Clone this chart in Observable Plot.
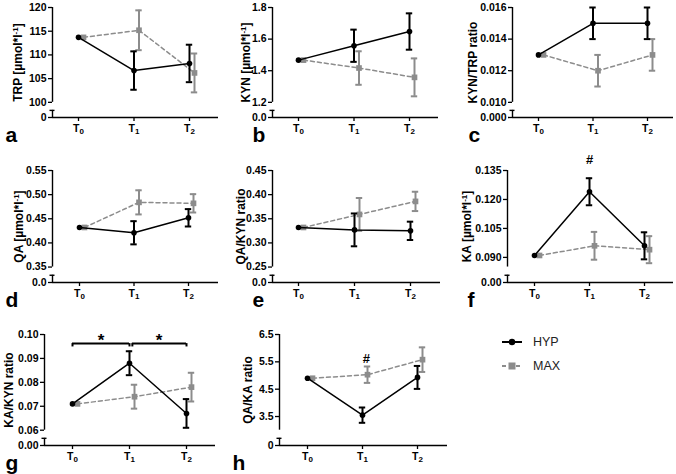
<!DOCTYPE html>
<html><head><meta charset="utf-8">
<script src="https://cdn.jsdelivr.net/npm/d3@7"></script>
<script src="https://cdn.jsdelivr.net/npm/@observablehq/plot@0.6"></script>
<style>
body{margin:0;background:#fff;}
#chart{position:relative;width:676px;height:474px;font-family:"Liberation Sans",Arial,sans-serif;}
#legend{position:absolute;left:0;top:0;}
</style></head><body><div id="chart"></div>
<script>
// ---- data ----
const timepoints = ["T₀", "T₁", "T₂"];
const groups = ["HYP", "MAX"];

const trpHyp = [113.7, 106.7, 108.2], trpHypErr = [0, 4.05, 3.95];
const trpMax = [113.7, 115.2, 106.2], trpMaxErr = [0, 4.2, 4.1];
const trpTicks = [100, 105, 110, 115, 120];

const kynHyp = [1.467, 1.558, 1.648], kynHypErr = [0, 0.102, 0.115];
const kynMax = [1.467, 1.417, 1.358], kynMaxErr = [0, 0.106, 0.12];
const kynTicks = [1.2, 1.4, 1.6, 1.8];

const kyntrpHyp = [0.013, 0.015, 0.015], kyntrpHypErr = [0, 0.001, 0.001];
const kyntrpMax = [0.013, 0.012, 0.013], kyntrpMaxErr = [0, 0.001, 0.001];
const kyntrpTicks = [0.010, 0.012, 0.014, 0.016];

const qaHyp = [0.432, 0.421, 0.452], qaHypErr = [0, 0.024, 0.018];
const qaMax = [0.432, 0.484, 0.482], qaMaxErr = [0, 0.025, 0.019];
const qaTicks = [0.35, 0.40, 0.45, 0.50, 0.55];

const qakynHyp = [0.332, 0.327, 0.325], qakynHypErr = [0, 0.034, 0.019];
const qakynMax = [0.332, 0.359, 0.386], qakynMaxErr = [0, 0.034, 0.020];
const qakynTicks = [0.25, 0.30, 0.35, 0.40, 0.45];

const kaHyp = [0.091, 0.124, 0.096], kaHypErr = [0, 0.007, 0.007];
const kaMax = [0.091, 0.096, 0.094], kaMaxErr = [0, 0.0072, 0.007];
const kaTicks = [0.090, 0.105, 0.120, 0.135];

const kakynHyp = [0.071, 0.088, 0.067], kakynHypErr = [0, 0.005, 0.006];
const kakynMax = [0.071, 0.074, 0.078], kakynMaxErr = [0, 0.005, 0.006];
const kakynTicks = [0.06, 0.07, 0.08, 0.09, 0.10];

const qakaHyp = [4.9, 3.55, 4.93], qakaHypErr = [0, 0.28, 0.42];
const qakaMax = [4.9, 5.03, 5.58], qakaMaxErr = [0, 0.30, 0.45];
const qakaTicks = [3.5, 4.5, 5.5, 6.5];

// annotations
const kaMarks = [{x: 1, y: 0.1403, text: "#"}];
const qakaMarks = [{x: 1.07, y: 5.62, text: "#"}];
const kakynBrackets = [{x1: 0, x2: 1, y: 0.0962}, {x1: 1.05, x2: 2, y: 0.0962}];
const kakynStars = [{x: 0.5, y: 0.0976, text: "*"}, {x: 1.52, y: 0.0976, text: "*"}];

// ---- layout ----
const W = 676, H = 474;
const rows = [{top: 7, base: 117}, {top: 170, base: 282}, {top: 334, base: 445}];
const BLACK = "#000", GREY = "#8c8c8c";
const f0 = d => d3.format("d")(d), f1 = d3.format(".1f"), f2 = d3.format(".2f"), f3 = d3.format(".3f");

const panels = [
  {letter: "a", label: "TRP [µmol*l⁻¹]", hyp: trpHyp, hypErr: trpHypErr, max: trpMax, maxErr: trpMaxErr,
   ticks: trpTicks, axisMin: 100, top: 120, zeroLabel: "0", fmt: f0,
   row: 0, axis: 52, end: 218, t0: 78, t2: 189, lx: 5, labX: 18},
  {letter: "b", label: "KYN [µmol*l⁻¹]", hyp: kynHyp, hypErr: kynHypErr, max: kynMax, maxErr: kynMaxErr,
   ticks: kynTicks, axisMin: 1.2, top: 1.8, zeroLabel: "0.0", fmt: f1,
   row: 0, axis: 272, end: 438, t0: 298, t2: 409, lx: 252, labX: 246},
  {letter: "c", label: "KYN/TRP ratio", hyp: kyntrpHyp, hypErr: kyntrpHypErr, max: kyntrpMax, maxErr: kyntrpMaxErr,
   ticks: kyntrpTicks, axisMin: 0.010, top: 0.016, zeroLabel: "0.000", fmt: f3,
   row: 0, axis: 512, end: 673, t0: 538, t2: 647, lx: 468, labX: 473},
  {letter: "d", label: "QA [µmol*l⁻¹]", hyp: qaHyp, hypErr: qaHypErr, max: qaMax, maxErr: qaMaxErr,
   ticks: qaTicks, axisMin: 0.35, top: 0.55, zeroLabel: "0.0", fmt: f2,
   row: 1, axis: 52, end: 218, t0: 79, t2: 188, lx: 5, labX: 19},
  {letter: "e", label: "QA/KYN ratio", hyp: qakynHyp, hypErr: qakynHypErr, max: qakynMax, maxErr: qakynMaxErr,
   ticks: qakynTicks, axisMin: 0.25, top: 0.45, zeroLabel: "0.0", fmt: f2,
   row: 1, axis: 272, end: 440, t0: 298, t2: 410, lx: 252, labX: 241},
  {letter: "f", label: "KA [µmol*l⁻¹]", hyp: kaHyp, hypErr: kaHypErr, max: kaMax, maxErr: kaMaxErr,
   ticks: kaTicks, axisMin: 0.085, top: 0.135, zeroLabel: "0.00", fmt: f3, notes: kaMarks,
   row: 1, axis: 507, end: 673, t0: 534, t2: 644, lx: 467, labX: 467},
  {letter: "g", label: "KA/KYN ratio", hyp: kakynHyp, hypErr: kakynHypErr, max: kakynMax, maxErr: kakynMaxErr,
   ticks: kakynTicks, axisMin: 0.06, top: 0.10, zeroLabel: "0.00", fmt: f2, notes: kakynStars, brackets: kakynBrackets,
   row: 2, axis: 44, end: 215, t0: 72, t2: 186, lx: 5, labX: 9},
  {letter: "h", label: "QA/KA ratio", hyp: qakaHyp, hypErr: qakaHypErr, max: qakaMax, maxErr: qakaMaxErr,
   ticks: qakaTicks, axisMin: 3.0, top: 6.5, zeroLabel: "0", fmt: f1, notes: qakaMarks,
   row: 2, axis: 279, end: 447, t0: 307, t2: 417, lx: 232, labX: 248}
];

const chart = document.getElementById("chart");
const font = "'Liberation Sans', Arial, sans-serif";
const SUBS = "₀₁₂₃₄₅₆₇₈₉";

for (const p of panels) {
  const r = rows[p.row];
  const unit = (p.t2 - p.t0) / 2;
  const xd = [-(p.t0 - p.axis) / unit, 2 + (p.end - p.t2) / unit];
  const span = p.top - p.axisMin;
  const zero = p.axisMin - 0.16 * span;
  const stubTop = zero + 0.075 * span;
  const off = 5 / unit, cap = 3.2 / unit;
  const hyp = p.hyp.map((v, i) => ({x: i, y: v, e: p.hypErr[i]}));
  const max = p.max.map((v, i) => ({x: i + off, y: v, e: p.maxErr[i]}));
  const hypE = hyp.filter(d => d.e > 0), maxE = max.filter(d => d.e > 0);
  const marks = [
    Plot.axisY({ticks: [zero, ...p.ticks], tickFormat: d => d === zero ? p.zeroLabel : p.fmt(d),
      tickSize: 4, tickPadding: 2, fontSize: 10.5, fontWeight: "bold", strokeWidth: 1.3, label: null}),
    Plot.axisX({ticks: [0, 1, 2], tickFormat: i => timepoints[i], tickSize: 4, tickPadding: 3,
      fontSize: 10.5, fontWeight: "bold", strokeWidth: 1.3, label: null}),
    Plot.ruleX([xd[0]], {y1: () => p.axisMin, y2: () => p.top, strokeWidth: 1.4}),
    Plot.ruleX([xd[0]], {y1: () => zero, y2: () => stubTop, strokeWidth: 1.4}),
    Plot.ruleY([stubTop], {x1: () => xd[0] - 2.5 / unit, x2: () => xd[0] + 2.5 / unit, strokeWidth: 1.4}),
    Plot.ruleY([zero], {strokeWidth: 1.4}),
    // MAX series
    Plot.line(max, {x: "x", y: "y", stroke: GREY, strokeWidth: 1.5, strokeDasharray: "4,3"}),
    Plot.ruleX(maxE, {x: "x", y1: d => d.y - d.e, y2: d => d.y + d.e, stroke: GREY, strokeWidth: 2}),
    Plot.ruleY(maxE, {y: d => d.y + d.e, x1: d => d.x - cap, x2: d => d.x + cap, stroke: GREY, strokeWidth: 2}),
    Plot.ruleY(maxE, {y: d => d.y - d.e, x1: d => d.x - cap, x2: d => d.x + cap, stroke: GREY, strokeWidth: 2}),
    Plot.dot(max, {x: "x", y: "y", symbol: "square", r: 3.2, fill: GREY, stroke: "none"}),
    // HYP series
    Plot.line(hyp, {x: "x", y: "y", stroke: BLACK, strokeWidth: 1.5}),
    Plot.ruleX(hypE, {x: "x", y1: d => d.y - d.e, y2: d => d.y + d.e, stroke: BLACK, strokeWidth: 2}),
    Plot.ruleY(hypE, {y: d => d.y + d.e, x1: d => d.x - cap, x2: d => d.x + cap, stroke: BLACK, strokeWidth: 2}),
    Plot.ruleY(hypE, {y: d => d.y - d.e, x1: d => d.x - cap, x2: d => d.x + cap, stroke: BLACK, strokeWidth: 2}),
    Plot.dot(hyp, {x: "x", y: "y", r: 2.8, fill: BLACK, stroke: "none"}),
    // labels
    Plot.text([p.label], {frameAnchor: "left", dx: p.labX - p.axis, rotate: -90, fontSize: 12,
      fontWeight: "bold", textAnchor: "middle", lineAnchor: "middle"}),
    Plot.text([p.letter], {frameAnchor: "bottom-left", dx: p.lx - p.axis, dy: 24, fontSize: 21,
      fontWeight: "bold", textAnchor: "start", lineAnchor: "bottom"})
  ];
  if (p.notes) marks.push(Plot.text(p.notes, {x: "x", y: "y", text: "text",
    fontSize: p.brackets ? 17 : 13, fontWeight: "bold", lineAnchor: "middle"}));
  if (p.brackets) {
    const drop = span * 0.035;
    marks.push(Plot.ruleY(p.brackets, {y: "y", x1: "x1", x2: "x2", strokeWidth: 2}));
    marks.push(Plot.ruleX(p.brackets, {x: "x1", y1: "y", y2: d => d.y - drop, strokeWidth: 2}));
    marks.push(Plot.ruleX(p.brackets, {x: "x2", y1: "y", y2: d => d.y - drop, strokeWidth: 2}));
  }
  const svg = Plot.plot({
    width: W, height: H,
    marginLeft: p.axis, marginRight: W - p.end, marginTop: r.top, marginBottom: H - r.base,
    x: {domain: xd}, y: {domain: [zero, p.top]},
    style: {position: "absolute", left: "0px", top: "0px", background: "transparent", overflow: "visible", fontFamily: font, color: "#000"},
    marks
  });
  // real subscripts / superscripts with tspans
  d3.select(svg).selectAll("text").each(function () {
    const t = this.textContent;
    const m = t.match(/^(\D+)([₀-₉])$/);
    if (m) {
      const el = d3.select(this); el.text(null);
      el.append("tspan").text(m[1]);
      el.append("tspan").attr("font-size", 8).attr("dy", 2.5).text(String(SUBS.indexOf(m[2])));
    } else if (t.includes("⁻¹")) {
      const [a, b] = t.split("⁻¹");
      const el = d3.select(this); el.text(null);
      el.append("tspan").text(a);
      el.append("tspan").attr("font-size", 8).attr("dy", -4.5).text("-1");
      el.append("tspan").attr("dy", 4.5).text(b);
    }
  });
  chart.appendChild(svg);
}

// legend
const leg = d3.select(chart).append("svg").attr("id", "legend").attr("width", W).attr("height", H)
  .style("font-family", font);
const legItems = [{name: groups[0], color: BLACK, dash: null, sym: "circle", y: 342},
                  {name: groups[1], color: GREY, dash: "4,3", sym: "square", y: 366}];
for (const it of legItems) {
  const g = leg.append("g").attr("transform", `translate(512,${it.y})`);
  g.append("line").attr("x1", -10).attr("x2", 10).attr("stroke", it.color).attr("stroke-width", 2)
    .attr("stroke-dasharray", it.dash);
  if (it.sym === "circle") g.append("circle").attr("r", 3.2).attr("fill", it.color);
  else g.append("rect").attr("x", -3.5).attr("y", -3.5).attr("width", 7).attr("height", 7).attr("fill", it.color);
  g.append("text").attr("x", 21).attr("dy", "0.35em").attr("font-size", 12.5).attr("fill", "#222").text(it.name);
}
</script></body></html>
